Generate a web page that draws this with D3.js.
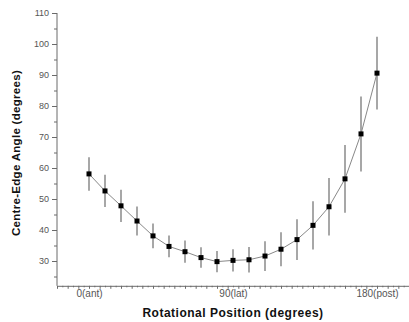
<!DOCTYPE html>
<html>
<head>
<meta charset="utf-8">
<script src="https://cdn.jsdelivr.net/npm/d3@7"></script>
<style>
  body { margin: 0; background: #fff; }
  svg { display: block; font-family: "Liberation Sans", Arial, sans-serif; }
</style>
</head>
<body>
<div id="chart"></div>
<script>
// rotational position (degrees), mean centre-edge angle, error (half length)
const positions = [0, 10, 20, 30, 40, 50, 60, 70, 80, 90, 100, 110, 120, 130, 140, 150, 160, 170, 180];
const angles = [58.1, 52.6, 47.8, 42.9, 38.1, 34.7, 33.0, 31.1, 29.8, 30.2, 30.4, 31.6, 33.8, 36.9, 41.5, 47.5, 56.5, 71.0, 90.6];
const errors = [5.4, 5.2, 5.2, 4.7, 4.0, 3.5, 3.6, 3.3, 3.4, 3.6, 4.1, 4.8, 5.5, 6.6, 7.8, 9.3, 10.9, 12.1, 11.7];
const xTickValues = [0, 90, 180];
const xTickLabels = ['0(ant)', '90(lat)', '180(post)'];
const yTickValues = [30, 40, 50, 60, 70, 80, 90, 100, 110];

const width = 409, height = 322;
const svg = d3.select('#chart').append('svg')
  .attr('width', width)
  .attr('height', height);

const x = d3.scaleLinear().domain([-20, 200]).range([57, 409]);
const y = d3.scaleLinear().domain([22, 110]).range([285.8, 13]);

const axisColor = '#6a6a6a';
const labelColor = '#555';

// y axis: minor ticks every 5
const yAxis = svg.append('g').attr('transform', `translate(${x(-20)},0)`)
  .call(d3.axisLeft(y).tickValues(d3.range(25, 111, 5)).tickSize(3).tickFormat(''));
yAxis.call(g => g.select('.domain').remove());
yAxis.append('line').attr('x1', 0).attr('x2', 0).attr('y1', y(110)).attr('y2', y(22));
yAxis.selectAll('line').attr('stroke', axisColor);
svg.append('g').attr('transform', `translate(${x(-20)},0)`)
  .call(d3.axisLeft(y).tickValues(yTickValues).tickSize(5).tickPadding(3))
  .call(g => g.select('.domain').remove())
  .call(g => g.selectAll('line').attr('stroke', axisColor))
  .call(g => g.selectAll('text').attr('fill', labelColor).style('font-size', '9px'));

// x axis: ticks alternate long/short
const xMinor = d3.range(-20, 200.1, 10 / 3);
const xAxis = svg.append('g').attr('transform', `translate(0,${y(22)})`)
  .call(d3.axisBottom(x).tickValues(xMinor).tickSizeOuter(0).tickFormat(''));
xAxis.selectAll('.tick line')
  .attr('y2', (d, i) => i % 2 === 0 ? 3 : 1.5)
  .attr('stroke', axisColor);
xAxis.select('.domain').attr('stroke', axisColor);

svg.append('g').attr('transform', `translate(0,${y(22)})`)
  .call(d3.axisBottom(x).tickValues(xTickValues).tickSize(0).tickPadding(4)
    .tickFormat((d, i) => xTickLabels[i]))
  .call(g => g.select('.domain').remove())
  .call(g => g.selectAll('text').attr('fill', labelColor).style('font-size', '10px'));

// connecting line
svg.append('path')
  .datum(positions.map((p, i) => [p, angles[i]]))
  .attr('d', d3.line().x(d => x(d[0])).y(d => y(d[1])))
  .attr('fill', 'none')
  .attr('stroke', '#888')
  .attr('stroke-width', 1);

// error bars
svg.append('g').selectAll('line')
  .data(positions)
  .join('line')
  .attr('x1', d => x(d)).attr('x2', d => x(d))
  .attr('y1', (d, i) => y(angles[i] + errors[i]))
  .attr('y2', (d, i) => y(angles[i] - errors[i]))
  .attr('stroke', '#8a8a8a')
  .attr('stroke-width', 1.5);

// markers
const ms = 5;
svg.append('g').selectAll('rect')
  .data(positions)
  .join('rect')
  .attr('x', d => x(d) - ms / 2)
  .attr('y', (d, i) => y(angles[i]) - ms / 2)
  .attr('width', ms).attr('height', ms)
  .attr('fill', '#000');

// axis titles
svg.append('text')
  .attr('x', 233).attr('y', 317)
  .attr('text-anchor', 'middle')
  .attr('font-weight', 'bold')
  .attr('font-size', '12px')
  .attr('letter-spacing', '0.5px')
  .attr('fill', '#111')
  .text('Rotational Position (degrees)');

svg.append('text')
  .attr('transform', 'translate(20,153) rotate(-90)')
  .attr('text-anchor', 'middle')
  .attr('font-weight', 'bold')
  .attr('font-size', '11.5px')
  .attr('letter-spacing', '0.3px')
  .attr('fill', '#111')
  .text('Centre-Edge Angle (degrees)');
</script>
</body>
</html>
